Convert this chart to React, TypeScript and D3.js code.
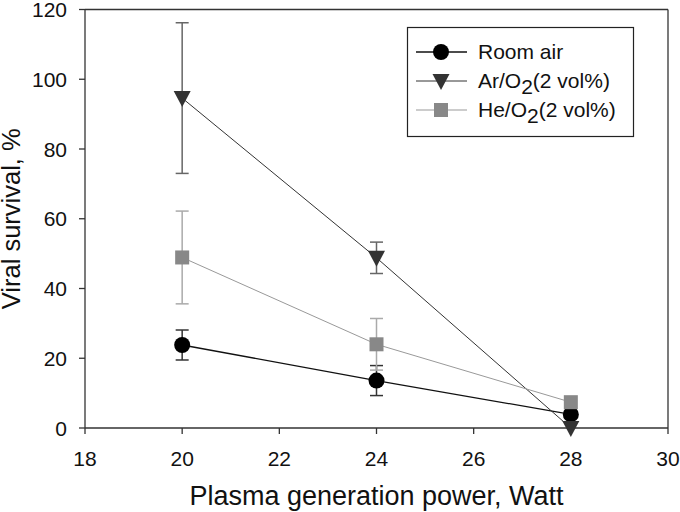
import React from "react";
import * as d3 from "d3";

const powers = [20, 24, 28];
const roomAir = [23.8, 13.6, 3.9];
const roomAirErr = [4.3, 4.3, 0];
const arO2 = [94.6, 48.8, 0];
const arO2Err = [21.6, 4.5, 0];
const heO2 = [48.9, 24.0, 7.4];
const heO2Err = [13.3, 7.4, 0];
const xTicks = [18, 20, 22, 24, 26, 28, 30];
const yTicks = [0, 20, 40, 60, 80, 100, 120];

const W = 680, H = 512;
const L = 85, R = 668, T = 9.5, B = 428;
const FONT = "Liberation Sans, Arial, sans-serif";

const series = [
  { name: "Room air", vals: roomAir, err: roomAirErr, shape: "circle", fill: "#000", line: "#111", errC: "#333", lw: 1.3 },
  { name: "Ar/O", vals: arO2, err: arO2Err, shape: "tri", fill: "#333", line: "#333", errC: "#666", lw: 1 },
  { name: "He/O", vals: heO2, err: heO2Err, shape: "square", fill: "#888", line: "#999", errC: "#aaa", lw: 1 },
];

function Marker({ shape, x, y, fill }: any) {
  if (shape === "circle") return <circle cx={x} cy={y} r={8} fill={fill} />;
  if (shape === "square") return <rect x={x - 7} y={y - 7} width={14} height={14} fill={fill} />;
  const s = 8.5;
  return <path d={`M${x - s},${y - 7}L${x + s},${y - 7}L${x},${y + 9}Z`} fill={fill} />;
}

export default function App() {
  const x = d3.scaleLinear().domain([18, 30]).range([L, R]);
  const y = d3.scaleLinear().domain([0, 120]).range([B, T]);
  const line = d3.line<number>().x((_, i) => x(powers[i])).y((d) => y(d));
  const legendRows = [52, 81, 110];
  return (
    <svg width={W} height={H} style={{ position: "absolute", left: 0, top: 0, background: "#fff" }} fontFamily={FONT}>
      <rect x={0} y={0} width={W} height={H} fill="#fff" />
      <line x1={L} y1={T} x2={R} y2={T} stroke="#333" strokeWidth={1.3} />
      <line x1={R} y1={T} x2={R} y2={B} stroke="#333" strokeWidth={1.3} />
      <line x1={L} y1={T} x2={L} y2={B} stroke="#333" strokeWidth={1.3} />
      <line x1={L} y1={B} x2={R} y2={B} stroke="#333" strokeWidth={1.3} />
      {yTicks.map((t) => (
        <g key={"y" + t}>
          <line x1={L - 6} x2={L} y1={y(t)} y2={y(t)} stroke="#333" strokeWidth={1.3} />
          <text x={L - 18} y={y(t) + 7.5} textAnchor="end" fontSize={21} fill="#111">{t}</text>
        </g>
      ))}
      {xTicks.map((t) => (
        <g key={"x" + t}>
          <line x1={x(t)} x2={x(t)} y1={B} y2={B + 6} stroke="#333" strokeWidth={1.3} />
          <text x={x(t)} y={B + 37.5} textAnchor="middle" fontSize={21} fill="#111">{t}</text>
        </g>
      ))}
      <text x={(L + R) / 2} y={505} textAnchor="middle" fontSize={27} fill="#111">Plasma generation power, Watt</text>
      <text transform={`translate(20,${(T + B) / 2}) rotate(-90)`} textAnchor="middle" fontSize={25.5} fill="#111">Viral survival, %</text>
      {series.map((s) =>
        s.vals.map((v, i) =>
          s.err[i] > 0 ? (
            <g key={s.name + "e" + i} stroke={s.errC} strokeWidth={1.5}>
              <line x1={x(powers[i])} x2={x(powers[i])} y1={y(v - s.err[i])} y2={y(v + s.err[i])} />
              <line x1={x(powers[i]) - 6.5} x2={x(powers[i]) + 6.5} y1={y(v - s.err[i])} y2={y(v - s.err[i])} />
              <line x1={x(powers[i]) - 6.5} x2={x(powers[i]) + 6.5} y1={y(v + s.err[i])} y2={y(v + s.err[i])} />
            </g>
          ) : null
        )
      )}
      {series.map((s) => (
        <path key={s.name + "l"} d={line(s.vals) || ""} fill="none" stroke={s.line} strokeWidth={s.lw} />
      ))}
      {series.map((s) =>
        s.vals.map((v, i) => <Marker key={s.name + "m" + i} shape={s.shape} x={x(powers[i])} y={y(v)} fill={s.fill} />)
      )}
      <rect x={407.5} y={27.5} width={226} height={109} fill="#fff" stroke="#222" strokeWidth={1.2} />
      {series.map((s, k) => (
        <g key={s.name + "lg"}>
          <line x1={416} x2={467} y1={legendRows[k]} y2={legendRows[k]} stroke={s.line} strokeWidth={s.lw} />
          <Marker shape={s.shape} x={441} y={legendRows[k]} fill={s.fill} />
          <text x={478} y={legendRows[k] + 7} fontSize={21} fill="#111">
            {k === 0 ? (
              s.name
            ) : (
              <>
                {s.name}
                <tspan dy={6}>2</tspan>
                <tspan dy={-6}>(2 vol%)</tspan>
              </>
            )}
          </text>
        </g>
      ))}
    </svg>
  );
}
